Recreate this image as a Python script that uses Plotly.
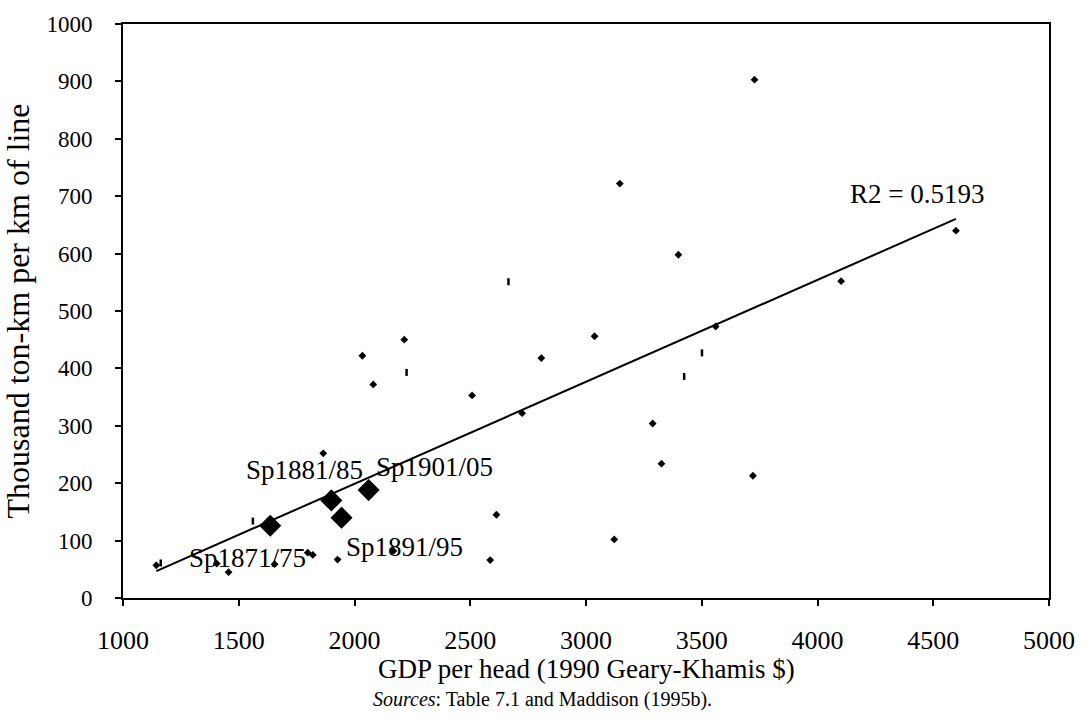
import numpy as np
import plotly.graph_objects as go

# Other countries / periods: GDP per head vs rail freight density
other_gdp = [1144, 1405, 1456, 1655, 1798, 1820, 1865, 1927, 2034, 2081, 2168,
             2215, 2508, 2586, 2613, 2724, 2807, 3037, 3122, 3146, 3288, 3326,
             3399, 3560, 3721, 3728, 4102, 4598]
other_freight = [57, 60, 45, 59, 79, 75, 252, 67, 422, 372, 82,
                 450, 353, 66, 145, 322, 418, 456, 102, 722, 304, 234,
                 598, 473, 213, 903, 552, 640]

# Observations drawn with a narrow vertical mark
dash_gdp = [1163, 1561, 2225, 2665, 3424, 3501]
dash_freight = [61, 134, 393, 551, 386, 427]

# Spain, five-year averages
spain_labels = ["Sp1871/75", "Sp1881/85", "Sp1891/95", "Sp1901/05"]
spain_gdp = [1636, 1900, 1944, 2061]
spain_freight = [126, 170, 140, 188]

r2_text = "R2 = 0.5193"

x_ticks = [1000, 1500, 2000, 2500, 3000, 3500, 4000, 4500, 5000]
y_ticks = [0, 100, 200, 300, 400, 500, 600, 700, 800, 900, 1000]

FONT = "Liberation Serif"
FS = 27

# Linear trend over every observation
all_x = np.array(other_gdp + dash_gdp + spain_gdp, dtype=float)
all_y = np.array(other_freight + dash_freight + spain_freight, dtype=float)
slope, intercept = np.polyfit(all_x, all_y, 1)
trend_x = np.array([all_x.min(), all_x.max()])
trend_y = slope * trend_x + intercept

fig = go.Figure()

fig.add_trace(go.Scatter(
    x=trend_x, y=trend_y, mode="lines",
    line=dict(color="black", width=2), hoverinfo="skip",
))
fig.add_trace(go.Scatter(
    x=other_gdp, y=other_freight, mode="markers",
    marker=dict(symbol="diamond", size=6, color="black"),
))
fig.add_trace(go.Scatter(
    x=dash_gdp, y=dash_freight, mode="markers",
    marker=dict(symbol="line-ns", size=5, line=dict(color="black", width=2.5)),
))
fig.add_trace(go.Scatter(
    x=spain_gdp, y=spain_freight, mode="markers",
    marker=dict(symbol="diamond", size=17, color="black"),
))

# Spain labels, offset from each diamond
offsets = [(-23, -32), (-27, 30), (63, -29), (66, 23)]
for lab, gx, fy, (dx, dy) in zip(spain_labels, spain_gdp, spain_freight, offsets):
    fig.add_annotation(x=gx, y=fy, text=lab, showarrow=False,
                       xshift=dx, yshift=dy,
                       font=dict(family=FONT, size=FS, color="black"))

fig.add_annotation(x=trend_x[1], y=trend_y[1], text=r2_text, showarrow=False,
                   xshift=-38, yshift=25,
                   font=dict(family=FONT, size=FS, color="black"))

fig.add_annotation(xref="paper", yref="paper", x=0.5, y=-0.123,
                   yanchor="middle",
                   text="GDP per head (1990 Geary-Khamis $)", showarrow=False,
                   font=dict(family=FONT, size=FS, color="black"))
fig.add_annotation(xref="paper", yref="paper", x=0.4525, y=-0.177,
                   yanchor="middle",
                   text="<i>Sources</i>: Table 7.1 and Maddison (1995b).",
                   showarrow=False,
                   font=dict(family=FONT, size=20, color="black"))

axis_common = dict(
    showgrid=False, zeroline=False, showline=True, mirror=True,
    linecolor="black", linewidth=2, ticks="outside", ticklen=6,
    tickwidth=2, tickcolor="black",
)

fig.update_xaxes(range=[1000, 5000], tickvals=x_ticks,
                 ticklabelstandoff=12,
                 tickfont=dict(family=FONT, size=26, color="black"),
                 **axis_common)
fig.update_yaxes(range=[0, 1000], tickvals=y_ticks,
                 ticklabelstandoff=18,
                 tickfont=dict(family=FONT, size=23, color="black"),
                 title=dict(text="Thousand ton-km per km of line",
                            font=dict(family=FONT, size=32, color="black"),
                            standoff=10),
                 **axis_common)

fig.update_layout(
    width=1087, height=725,
    margin=dict(l=123, r=36, t=18, b=127),
    paper_bgcolor="white", plot_bgcolor="white",
    showlegend=False,
    font=dict(family=FONT, size=FS, color="black"),
)

fig.write_html("out.html")
